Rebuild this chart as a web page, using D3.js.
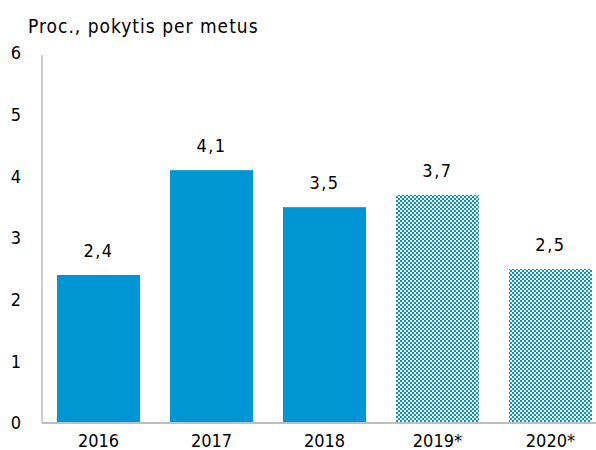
<!DOCTYPE html>
<html>
<head>
	<meta charset="utf-8">
	<title>Proc., pokytis per metus</title>
	<script src="https://d3js.org/d3.v7.min.js"></script>
	<style>
		html, body { margin: 0; background: #fff; overflow: hidden; }
		svg { display: block; }
		text { font-family: 'DejaVu Sans Condensed', 'DejaVu Sans', sans-serif; fill: #000; }
	</style>
</head>
<body>
	<div class="chart"></div>

	<script type="text/javascript">

		var years = ['2016', '2017', '2018', '2019*', '2020*']
		var values = [2.4, 4.1, 3.5, 3.7, 2.5]
		var forecast = [false, false, false, true, true]
		var yTicks = [0, 1, 2, 3, 4, 5, 6]

		var width = 596
		var height = 450
		var barColor = '#0096d6'

		var svg = d3
			.select('.chart')
			.append('svg')
			.attr('width', width)
			.attr('height', height)

		// checker pattern for forecast bars
		var pattern = svg
			.append('defs')
			.append('pattern')
			.attr('id', 'checker')
			.attr('patternUnits', 'userSpaceOnUse')
			.attr('width', 4)
			.attr('height', 4)
		pattern.append('rect').attr('width', 4).attr('height', 4).attr('fill', '#fff')
		pattern.append('rect').attr('width', 2).attr('height', 2).attr('fill', barColor)
		pattern.append('rect').attr('x', 2).attr('y', 2).attr('width', 2).attr('height', 2).attr('fill', barColor)

		// scales
		var xScale = d3.scaleBand()
			.domain(years)
			.range([42, 607])
			.paddingInner(0.265)
			.paddingOuter(0.133)
		var yScale = d3.scaleLinear().domain([0, 6]).range([423, 53])

		// title
		svg.append('text')
			.attr('x', 28)
			.attr('y', 33)
			.style('font-size', '19px')
			.style('letter-spacing', '1px')
			.text('Proc., pokytis per metus')

		// y axis
		svg.append('line')
			.attr('x1', 42).attr('x2', 42)
			.attr('y1', yScale(6) + 2).attr('y2', yScale(0))
			.attr('stroke', '#bfbfbf')
			.attr('stroke-width', 1.5)

		svg.append('g')
			.selectAll('text')
			.data(yTicks)
			.enter()
			.append('text')
			.attr('x', 21)
			.attr('y', (d) => yScale(d))
			.attr('dy', '0.36em')
			.attr('text-anchor', 'end')
			.style('font-size', '18px')
			.text((d) => d)

		// bars
		svg.append('g')
			.selectAll('rect')
			.data(values)
			.enter()
			.append('rect')
			.attr('x', (d, i) => xScale(years[i]))
			.attr('y', (d) => yScale(d))
			.attr('width', xScale.bandwidth())
			.attr('height', (d) => yScale(0) - yScale(d))
			.attr('fill', (d, i) => forecast[i] ? 'url(#checker)' : barColor)

		// value labels
		svg.append('g')
			.selectAll('text')
			.data(values)
			.enter()
			.append('text')
			.attr('x', (d, i) => xScale(years[i]) + xScale.bandwidth() / 2)
			.attr('y', (d) => yScale(d) - 18)
			.attr('text-anchor', 'middle')
			.style('font-size', '18px')
			.style('letter-spacing', '1.5px')
			.text((d) => String(d).replace('.', ','))

		// x axis
		svg.append('line')
			.attr('x1', 42).attr('x2', width)
			.attr('y1', yScale(0)).attr('y2', yScale(0))
			.attr('stroke', '#bfbfbf')
			.attr('stroke-width', 2)

		svg.append('g')
			.selectAll('text')
			.data(years)
			.enter()
			.append('text')
			.attr('x', (d) => xScale(d) + xScale.bandwidth() / 2)
			.attr('y', 447)
			.attr('text-anchor', 'middle')
			.style('font-size', '18px')
			.text((d) => d)

	</script>
</body>
</html>
